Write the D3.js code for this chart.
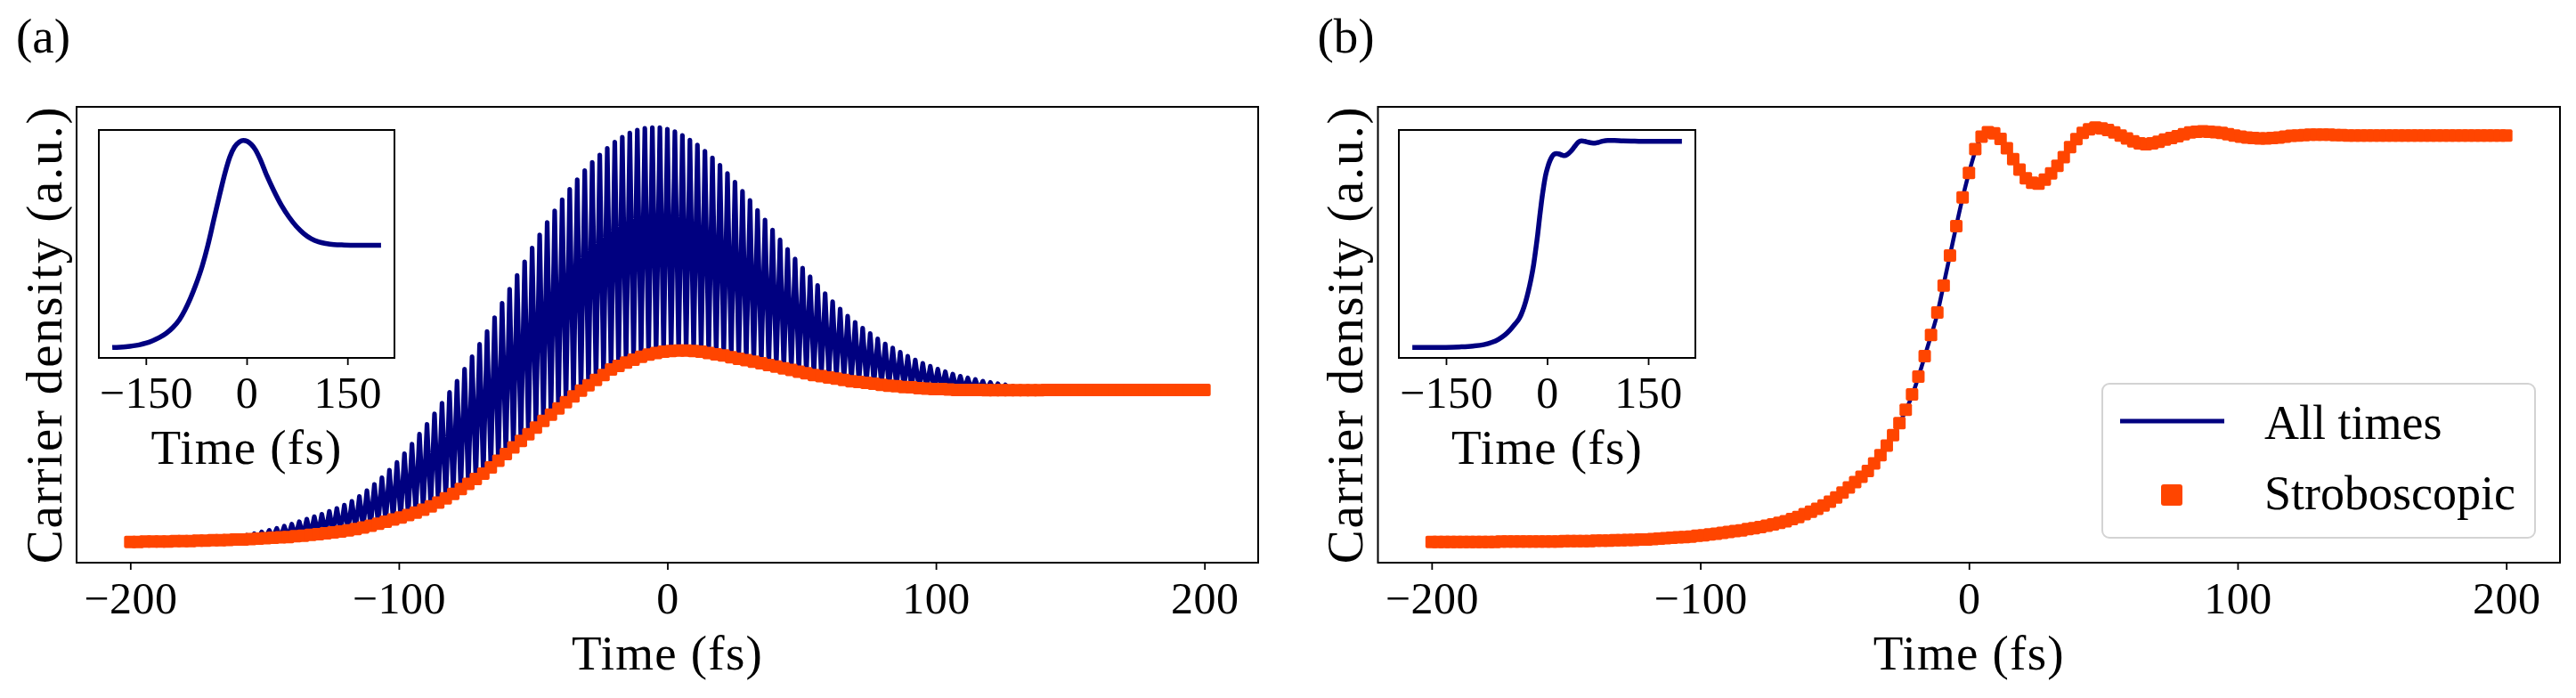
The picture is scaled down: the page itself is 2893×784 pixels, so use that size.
<!DOCTYPE html>
<html>
<head>
<meta charset="utf-8">
<script src="https://cdn.jsdelivr.net/npm/d3@7"></script>
<style>
  body { margin: 0; background: #fff; }
  text { font-family: "Liberation Serif", "Times New Roman", serif; fill: #000; }
</style>
</head>
<body>
<script>
// time grid of the stroboscopic samples (one sample per optical cycle)
const tStart = -200, tEnd = 200;
const cyclesA = 143, cyclesB = 170;

// (a) carrier density sampled once per cycle
const strobeA = [
  0.000, 0.000, 0.001, 0.001, 0.001, 0.001, 0.002, 0.002, 0.002, 0.003,
  0.003, 0.004, 0.004, 0.005, 0.006, 0.006, 0.007, 0.008, 0.009, 0.010,
  0.011, 0.012, 0.014, 0.015, 0.017, 0.019, 0.021, 0.023, 0.025, 0.028,
  0.031, 0.035, 0.039, 0.044, 0.049, 0.054, 0.059, 0.065, 0.071, 0.078,
  0.086, 0.095, 0.105, 0.116, 0.128, 0.140, 0.152, 0.165, 0.180, 0.196,
  0.212, 0.228, 0.244, 0.260, 0.276, 0.292, 0.307, 0.322, 0.337, 0.351,
  0.365, 0.378, 0.391, 0.403, 0.416, 0.425, 0.433, 0.440, 0.447, 0.452,
  0.456, 0.459, 0.461, 0.462, 0.462, 0.461, 0.459, 0.456, 0.453, 0.450,
  0.446, 0.442, 0.439, 0.435, 0.431, 0.427, 0.423, 0.419, 0.415, 0.411,
  0.407, 0.403, 0.400, 0.397, 0.394, 0.391, 0.388, 0.386, 0.384, 0.382,
  0.379, 0.377, 0.376, 0.374, 0.373, 0.371, 0.370, 0.369, 0.369, 0.368,
  0.367, 0.367, 0.367, 0.367, 0.366, 0.366, 0.366, 0.366, 0.366, 0.366,
  0.366, 0.366, 0.367, 0.367, 0.367, 0.367, 0.367, 0.367, 0.367, 0.367,
  0.367, 0.367, 0.367, 0.367, 0.367, 0.367, 0.367, 0.367, 0.367, 0.367,
  0.367, 0.367, 0.367, 0.367
];

// (a) all-times signal: maximum reached inside each cycle
const peaksA = [
  0.000, 0.000, 0.001, 0.001, 0.001, 0.001, 0.002, 0.002, 0.002, 0.003,
  0.003, 0.005, 0.007, 0.010, 0.013, 0.016, 0.020, 0.024, 0.028, 0.033,
  0.038, 0.043, 0.049, 0.055, 0.061, 0.067, 0.074, 0.081, 0.089, 0.098,
  0.110, 0.124, 0.139, 0.155, 0.173, 0.192, 0.213, 0.236, 0.260, 0.284,
  0.309, 0.335, 0.361, 0.388, 0.417, 0.447, 0.477, 0.508, 0.541, 0.576,
  0.610, 0.643, 0.676, 0.709, 0.741, 0.771, 0.799, 0.826, 0.851, 0.874,
  0.896, 0.916, 0.934, 0.950, 0.965, 0.977, 0.987, 0.994, 0.998, 1.000,
  1.000, 0.996, 0.990, 0.981, 0.970, 0.958, 0.943, 0.927, 0.909, 0.889,
  0.868, 0.846, 0.824, 0.800, 0.777, 0.753, 0.729, 0.706, 0.683, 0.661,
  0.640, 0.619, 0.599, 0.580, 0.562, 0.545, 0.530, 0.516, 0.503, 0.490,
  0.478, 0.468, 0.458, 0.448, 0.439, 0.431, 0.424, 0.417, 0.411, 0.405,
  0.400, 0.396, 0.392, 0.388, 0.385, 0.382, 0.379, 0.376, 0.373, 0.371,
  0.369, 0.368, 0.367, 0.367, 0.367, 0.367, 0.367, 0.367, 0.367, 0.367,
  0.367, 0.367, 0.367, 0.367, 0.367, 0.367, 0.367, 0.367, 0.367, 0.367,
  0.367, 0.367, 0.367
];

// (b) carrier density sampled once per cycle
const strobeB = [
  0.000, 0.000, 0.000, 0.000, 0.000, 0.000, 0.000, 0.000, 0.000, 0.000,
  0.000, 0.001, 0.001, 0.001, 0.001, 0.001, 0.001, 0.001, 0.001, 0.001,
  0.001, 0.002, 0.002, 0.002, 0.002, 0.002, 0.003, 0.003, 0.003, 0.004,
  0.004, 0.005, 0.005, 0.006, 0.006, 0.007, 0.008, 0.009, 0.010, 0.011,
  0.012, 0.013, 0.015, 0.016, 0.018, 0.020, 0.022, 0.024, 0.026, 0.028,
  0.031, 0.033, 0.036, 0.039, 0.042, 0.046, 0.050, 0.055, 0.060, 0.067,
  0.073, 0.080, 0.088, 0.097, 0.107, 0.119, 0.131, 0.144, 0.157, 0.171,
  0.189, 0.209, 0.232, 0.257, 0.286, 0.318, 0.355, 0.398, 0.447, 0.498,
  0.552, 0.617, 0.689, 0.760, 0.829, 0.888, 0.945, 0.975, 0.986, 0.983,
  0.970, 0.947, 0.921, 0.896, 0.875, 0.864, 0.862, 0.872, 0.887, 0.905,
  0.926, 0.950, 0.969, 0.984, 0.993, 0.997, 0.995, 0.991, 0.985, 0.978,
  0.971, 0.964, 0.959, 0.957, 0.959, 0.963, 0.968, 0.972, 0.976, 0.981,
  0.985, 0.987, 0.988, 0.987, 0.986, 0.984, 0.981, 0.978, 0.975, 0.973,
  0.972, 0.971, 0.971, 0.972, 0.973, 0.975, 0.977, 0.978, 0.979, 0.980,
  0.980, 0.980, 0.980, 0.979, 0.979, 0.978, 0.978, 0.978, 0.978, 0.978,
  0.978, 0.978, 0.978, 0.978, 0.978, 0.978, 0.978, 0.978, 0.978, 0.978,
  0.978, 0.978, 0.978, 0.978, 0.978, 0.978, 0.978, 0.978, 0.978, 0.978,
  0.978
];

// (b) all-times curve
const lineBTimes = [
  -200, -175, -150, -125, -100, -90, -80, -70, -60, -50, -45, -40, -35, -30,
  -27, -24, -21, -18, -15, -12, -9, -6, -3, 0, 3, 5, 7, 9, 12, 15, 18, 21, 24,
  27, 30, 33, 36, 39, 42, 45, 48, 52, 56, 60, 64, 68, 72, 76, 80, 85, 90, 95,
  100, 105, 110, 115, 120, 130, 140, 160, 200
];
const lineBValues = [
  0.000, 0.000, 0.002, 0.005, 0.015, 0.021, 0.033, 0.047, 0.070, 0.104, 0.130,
  0.157, 0.192, 0.236, 0.270, 0.310, 0.355, 0.414, 0.478, 0.543, 0.632, 0.722,
  0.810, 0.888, 0.952, 0.980, 0.995, 0.985, 0.966, 0.937, 0.905, 0.877, 0.863,
  0.866, 0.883, 0.903, 0.934, 0.962, 0.983, 0.994, 0.997, 0.991, 0.980, 0.968,
  0.959, 0.958, 0.966, 0.974, 0.981, 0.987, 0.987, 0.983, 0.976, 0.972, 0.971,
  0.973, 0.977, 0.980, 0.979, 0.978, 0.978
];

// insets
const insetATimes = [
  -200, -180, -160, -150, -140, -130, -120, -110, -100, -92, -84, -76, -66,
  -58, -49, -40, -32, -25, -18, -11, -5, 1, 7, 13, 20, 30, 40, 52, 63, 74,
  85, 96, 107, 118, 130, 145, 162, 180, 200
];
const insetAValues = [
  0.000, 0.004, 0.013, 0.021, 0.033, 0.048, 0.068, 0.096, 0.135, 0.180, 0.235,
  0.300, 0.395, 0.490, 0.615, 0.740, 0.845, 0.920, 0.968, 0.992, 1.000, 0.995,
  0.980, 0.955, 0.910, 0.830, 0.760, 0.685, 0.630, 0.585, 0.550, 0.525, 0.510,
  0.502, 0.497, 0.495, 0.494, 0.494, 0.494
];
const insetBTimes = [
  -200, -175, -150, -130, -110, -94, -82, -72, -63, -55, -48, -41, -36, -32,
  -28, -24, -20, -17, -14, -11, -8, -5, -2, 1, 4, 7, 10, 14, 18, 22, 26, 30,
  34, 38, 42, 46, 51, 56, 61, 66, 71, 76, 82, 90, 100, 113, 130, 150, 175, 200
];
const insetBValues = [
  0.000, 0.000, 0.001, 0.003, 0.007, 0.014, 0.025, 0.040, 0.060, 0.085, 0.112,
  0.142, 0.180, 0.220, 0.270, 0.328, 0.400, 0.470, 0.545, 0.632, 0.712, 0.780,
  0.835, 0.872, 0.900, 0.920, 0.932, 0.936, 0.934, 0.929, 0.926, 0.932, 0.943,
  0.958, 0.975, 0.990, 0.997, 0.995, 0.991, 0.988, 0.987, 0.990, 0.996, 1.000,
  0.999, 0.997, 0.996, 0.995, 0.995, 0.995
];

const xTicks = [-200, -100, 0, 100, 200];
const insetTicks = [-150, 0, 150];
const legendLabels = ["All times", "Stroboscopic"];

const navy = "#000080", orange = "#ff4500";

// ---- layout ----
const W = 2893, H = 784;
const plotTop = 120, plotBottom = 632;
const insetTop = 146, insetBottom = 402;

const svg = d3.select("body").append("svg")
    .attr("width", W)
    .attr("height", H);

const fmt = d => d < 0 ? "\u2212" + Math.abs(d) : String(d);

// padded extent, like matplotlib's default 5% margins
function padded(values) {
    const [lo, hi] = d3.extent(values);
    const m = (hi - lo) * 0.05;
    return [lo - m, hi + m];
}

function bottomAxis(x, y0, ticks, textY) {
    const g = svg.append("g")
        .attr("transform", "translate(0," + y0 + ")")
        .call(d3.axisBottom(x).tickValues(ticks).tickSize(8).tickFormat(fmt));
    g.select(".domain").remove();
    g.selectAll(".tick line").attr("stroke", "#000").attr("stroke-width", 1.8);
    g.selectAll(".tick text")
        .attr("y", textY)
        .attr("dy", null)
        .style("font-size", "50px")
        .style("letter-spacing", "0.5px");
    return g;
}

function frame(x0, x1, y0, y1, fill) {
    return svg.append("rect")
        .attr("x", x0).attr("y", y0)
        .attr("width", x1 - x0).attr("height", y1 - y0)
        .attr("fill", fill || "none")
        .attr("stroke", "#000")
        .attr("stroke-width", 2);
}

function squares(x, y, times, values, size) {
    svg.append("g").selectAll("rect")
        .data(values)
        .join("rect")
        .attr("x", (d, i) => x(times[i]) - size / 2)
        .attr("y", d => y(d) - size / 2)
        .attr("width", size)
        .attr("height", size)
        .attr("rx", 2)
        .attr("fill", orange);
}

function label(x, y, txt) {
    return svg.append("text")
        .attr("x", x).attr("y", y)
        .attr("text-anchor", "middle")
        .style("font-size", "55px")
        .style("letter-spacing", "1.2px")
        .text(txt);
}

function inset(x0, x1, times, values) {
    frame(x0, x1, insetTop, insetBottom, "#fff");
    const x = d3.scaleLinear().domain([-220, 220]).range([x0, x1]);
    const y = d3.scaleLinear().domain(padded(values)).range([insetBottom, insetTop]);
    svg.append("path")
        .datum(values)
        .attr("fill", "none")
        .attr("stroke", navy)
        .attr("stroke-width", 5.5)
        .attr("stroke-linejoin", "round")
        .attr("d", d3.line().x((d, i) => x(times[i])).y(d => y(d)).curve(d3.curveMonotoneX));
    frame(x0, x1, insetTop, insetBottom);
    bottomAxis(x, insetBottom, insetTicks, 56);
    label((x0 + x1) / 2, 521, "Time (fs)");
}

function panelText(x0, x1, tag) {
    svg.append("text")
        .attr("x", x0 - 68).attr("y", 59)
        .style("font-size", "55px")
        .text(tag);
    label((x0 + x1) / 2, 752, "Time (fs)");
    svg.append("text")
        .attr("transform", "translate(" + (x0 - 37) + "," + (plotTop + plotBottom) / 2 + ") rotate(-90)")
        .attr("text-anchor", "middle")
        .attr("dominant-baseline", "central")
        .style("font-size", "57px")
        .style("letter-spacing", "1.8px")
        .text("Carrier density (a.u.)");
}

// ---- panel (a) ----
{
    const x0 = 86, x1 = 1413;
    const step = (tEnd - tStart) / cyclesA;
    const tA = d3.range(strobeA.length).map(i => tStart + i * step);
    // all-times signal: minimum at each stroboscopic sample, maximum half a cycle later
    const allTimes = [];
    strobeA.forEach((v, i) => {
        allTimes.push([tA[i], v]);
        if (i < peaksA.length) allTimes.push([tA[i] + step / 2, peaksA[i]]);
    });

    const x = d3.scaleLinear().domain([-220, 220]).range([x0, x1]);
    const y = d3.scaleLinear().domain(padded(strobeA.concat(peaksA))).range([plotBottom, plotTop]);

    svg.append("path")
        .datum(allTimes)
        .attr("fill", "none")
        .attr("stroke", navy)
        .attr("stroke-width", 5.2)
        .attr("stroke-linejoin", "round")
        .attr("d", d3.line().x(d => x(d[0])).y(d => y(d[1])));
    squares(x, y, tA, strobeA, 14);

    frame(x0, x1, plotTop, plotBottom);
    bottomAxis(x, plotBottom, xTicks, 57);
    panelText(x0, x1, "(a)");
    inset(111, 443, insetATimes, insetAValues);
}

// ---- panel (b) ----
{
    const x0 = 1547.5, x1 = 2875;
    const step = (tEnd - tStart) / cyclesB;
    const tB = d3.range(strobeB.length).map(i => tStart + i * step);

    const x = d3.scaleLinear().domain([-220, 220]).range([x0, x1]);
    const y = d3.scaleLinear().domain(padded(strobeB.concat(lineBValues))).range([plotBottom, plotTop]);

    svg.append("path")
        .datum(lineBValues)
        .attr("fill", "none")
        .attr("stroke", navy)
        .attr("stroke-width", 4.5)
        .attr("stroke-linejoin", "round")
        .attr("d", d3.line().x((d, i) => x(lineBTimes[i])).y(d => y(d)).curve(d3.curveMonotoneX));
    squares(x, y, tB, strobeB, 14);

    frame(x0, x1, plotTop, plotBottom);
    bottomAxis(x, plotBottom, xTicks, 57);
    panelText(x0, x1, "(b)");
    inset(1571, 1904, insetBTimes, insetBValues);

    // legend
    const lg = svg.append("g").attr("transform", "translate(2361,431)");
    lg.append("rect")
        .attr("width", 486).attr("height", 173)
        .attr("rx", 8)
        .attr("fill", "#fff").attr("fill-opacity", 0.8)
        .attr("stroke", "#d3d3d3").attr("stroke-width", 2);
    lg.append("line")
        .attr("x1", 20).attr("x2", 137).attr("y1", 42).attr("y2", 42)
        .attr("stroke", navy).attr("stroke-width", 5);
    lg.append("rect")
        .attr("x", 78 - 12).attr("y", 125 - 12)
        .attr("width", 24).attr("height", 24).attr("rx", 3)
        .attr("fill", orange);
    lg.selectAll("text.lab")
        .data(legendLabels)
        .join("text")
        .attr("class", "lab")
        .attr("x", 182)
        .attr("y", (d, i) => 62 + i * 79)
        .style("font-size", "54px")
        .text(d => d);
}
</script>
</body>
</html>
